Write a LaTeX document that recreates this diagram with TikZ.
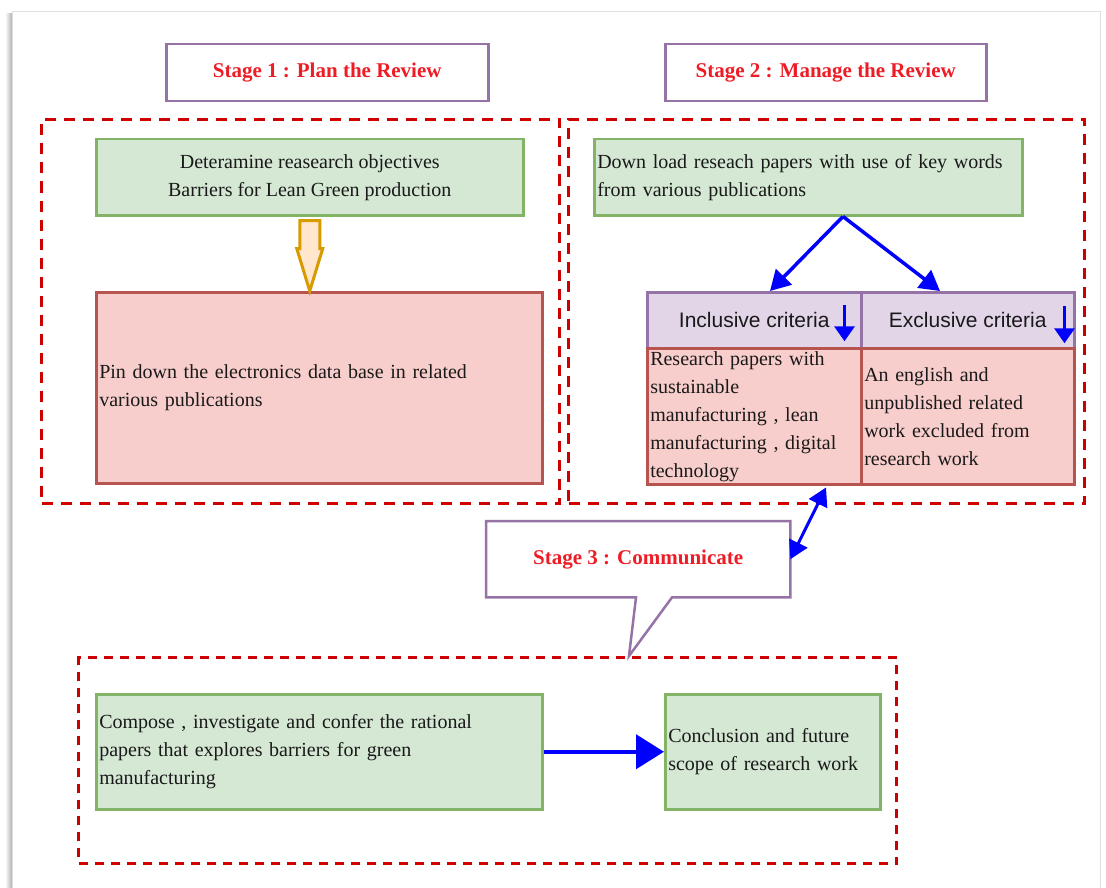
\documentclass[tikz,border=0pt]{standalone}
\usepackage{fontspec}
\setmainfont{Liberation Serif}
\newfontfamily\headfont{Liberation Sans}
\usetikzlibrary{arrows.meta,calc}

\definecolor{gfill}{HTML}{D5E8D4}
\definecolor{gline}{HTML}{82B366}
\definecolor{rfill}{HTML}{F8CECC}
\definecolor{rline}{HTML}{B85450}
\definecolor{pfill}{HTML}{E1D5E7}
\definecolor{pline}{HTML}{9673A6}
\definecolor{ofill}{HTML}{FFE6CC}
\definecolor{oline}{HTML}{D79B00}
\definecolor{dashred}{HTML}{CC0000}
\definecolor{titlered}{HTML}{EE1C25}
\definecolor{arrowblue}{HTML}{0000FF}

\tikzset{
  body/.style={font={\fontsize{20}{28}\selectfont}, text=black!90},
  boxbase/.style={anchor=north west, line width=2.5pt, inner xsep=3pt, inner ysep=0pt, body},
  greenbox/.style={boxbase, draw=gline, fill=gfill},
  redbox/.style={boxbase, draw=rline, fill=rfill},
  headcell/.style={boxbase, draw=pline, fill=pfill, align=center,
    font={\headfont\fontsize{21}{26}\selectfont}},
  stagebox/.style={anchor=north west, draw=pline, line width=2.5pt, fill=white,
    text=titlered, font={\bfseries\fontsize{21}{26}\selectfont}},
  dashframe/.style={anchor=north west, draw=dashred, line width=3pt,
    dash pattern=on 11pt off 8pt, inner sep=0pt},
  bluearrow/.style={draw=arrowblue, line width=3.5pt,
    -{Triangle[length=20pt,width=22pt]}},
  smallarrow/.style={draw=arrowblue, line width=3.5pt,
    -{Triangle[length=15pt,width=20pt]}},
  blockarrow/.style={draw=oline, fill=ofill, line width=3pt, line join=miter},
}

\begin{document}
\begin{tikzpicture}[x=1pt, y=-1pt]
\useasboundingbox (0,0) rectangle (1106,888);

% page sheet with a soft shadow on its left edge
\shade[left color=white, right color=black!30] (5,14) rectangle (12,888);
\draw[black!12, line width=1pt] (12,888) -- (12,12) -- (1100,12) -- (1100,888);

% dashed stage frames
\node[dashframe, minimum width=518, minimum height=384] (frameA) at (40,118) {};
\node[dashframe, minimum width=516, minimum height=384] (frameB) at (567,118) {};
\node[dashframe, dash pattern=on 9pt off 7pt, minimum width=818, minimum height=206] (frameC) at (77,656) {};

% stage titles
\node[stagebox, minimum width=322, minimum height=57] (stageA) at (165,43) {Stage 1 : Plan the Review};
\node[stagebox, minimum width=321, minimum height=57] (stageB) at (664,43) {Stage 2 : Manage the Review};

% stage 1 content
\node[greenbox, minimum width=427, minimum height=76, align=center] (obj) at (95,138)
  {Deteramine reasearch objectives\\Barriers for Lean Green production};
\node[redbox, minimum width=446, minimum height=191, text width=440, align=left] (pin) at (95,291)
  {Pin down the electronics data base in related\\various publications};

\draw[blockarrow]
  ($(obj.south)+(-10,4)$) -- ($(obj.south)+(10,4)$) -- ($(obj.south)+(10,32)$)
  -- ($(obj.south)+(13,32)$) -- (obj.south |- pin.north)
  -- ($(obj.south)+(-13,32)$) -- ($(obj.south)+(-10,32)$) -- cycle;

% stage 2 content
\node[greenbox, minimum width=428, minimum height=76, text width=422, align=left] (dl) at (593,138)
  {Down load reseach papers with use of key words\\from various publications};

\node[headcell, minimum width=214, minimum height=56] (inch) at (646,291) {Inclusive criteria};
\node[headcell, minimum width=213, minimum height=56] (exch) at (860,291) {Exclusive criteria};
\node[redbox, minimum width=214, minimum height=136, text width=208, align=left] (incb) at (646,347)
  {Research papers with\\sustainable\\manufacturing , lean\\manufacturing , digital\\technology};
\node[redbox, minimum width=213, minimum height=136, text width=207, align=left] (excb) at (860,347)
  {An english and\\unpublished related\\work excluded from\\research work};

\draw[smallarrow] ($(inch.east)+(-18,-15)$) -- ($(inch.east)+(-18,21)$);
\draw[smallarrow] ($(exch.east)+(-11,-14)$) -- ($(exch.east)+(-11,23)$);

\coordinate (fork) at ($(dl.south west)+(250,0)$);
\draw[bluearrow] (fork) -- ($(inch.north west)+(124,0)$);
\draw[bluearrow] (fork) -- ($(exch.north west)+(80,0)$);

% stage 3 callout
\node[text=titlered, font={\bfseries\fontsize{21}{26}\selectfont},
  anchor=north west, minimum width=304, minimum height=76, inner sep=0pt] (stageC) at (486,521)
  {Stage 3 : Communicate};
\coordinate (tail) at ($(frameC.north west)+(552,0)$);
\draw[pline, line width=2.5pt, line join=miter]
  (stageC.south west) -- (stageC.north west) -- (stageC.north east) -- (stageC.south east)
  -- ($(stageC.south west)+(186,0)$) -- (tail) -- ($(stageC.south west)+(150,0)$) -- cycle;

\draw[bluearrow, line width=3pt, {Triangle[length=18pt,width=20pt]}-{Triangle[length=18pt,width=20pt]}]
  ($(incb.south west)+(180,2)$) -- (stageC.east);

% stage 3 content
\node[greenbox, minimum width=446, minimum height=115, text width=440, align=left] (compose) at (95,693)
  {Compose , investigate and confer the rational\\papers that explores barriers for green\\manufacturing};
\node[greenbox, minimum width=215, minimum height=115, text width=209, align=left] (concl) at (664,693)
  {Conclusion and future\\scope of research work};

\draw[draw=arrowblue, line width=4pt, -{Triangle[length=28pt,width=34pt]}] (compose.east) -- (concl.west);

\end{tikzpicture}
\end{document}
